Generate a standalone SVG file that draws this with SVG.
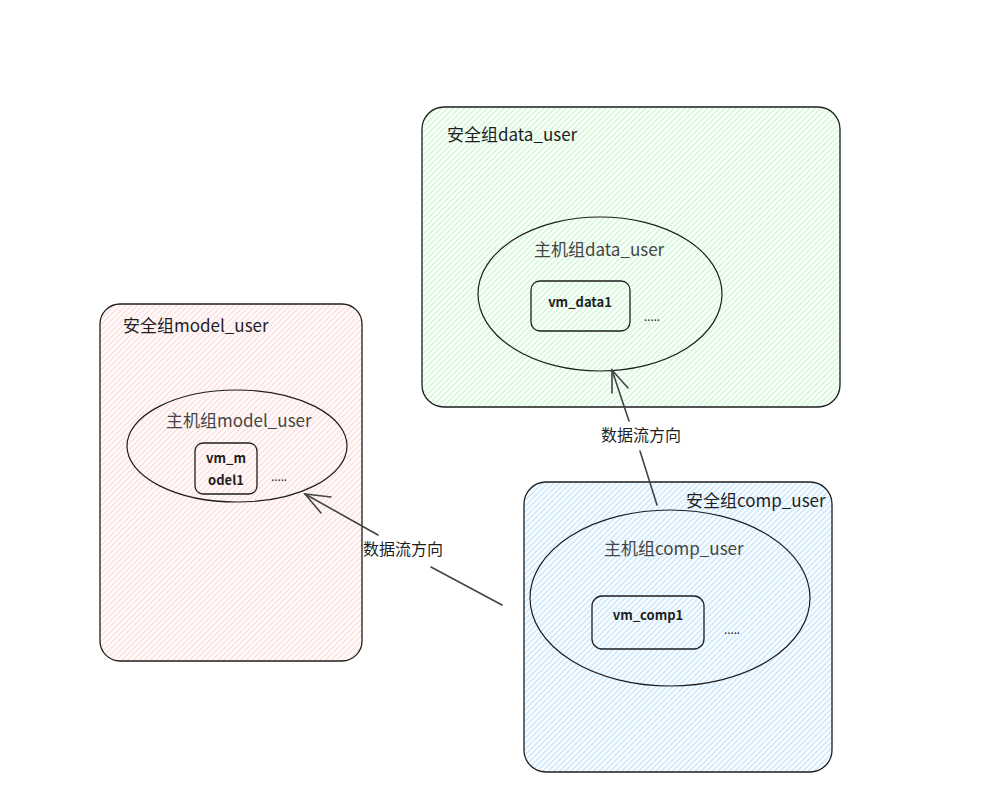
<svg xmlns="http://www.w3.org/2000/svg" width="995" height="798" viewBox="0 0 995 798">
<defs>
<pattern id="hg" patternUnits="userSpaceOnUse" width="4" height="4" patternTransform="rotate(45)"><line x1="1" y1="0" x2="1" y2="4" stroke="#b2f2bb" stroke-width="1"/></pattern>
<pattern id="hp" patternUnits="userSpaceOnUse" width="4" height="4" patternTransform="rotate(45)"><line x1="1" y1="0" x2="1" y2="4" stroke="#ffc9c9" stroke-width="1"/></pattern>
<pattern id="hb" patternUnits="userSpaceOnUse" width="4" height="4" patternTransform="rotate(45)"><line x1="1" y1="0" x2="1" y2="4" stroke="#a5d8ff" stroke-width="1"/></pattern>
<style>
.box{stroke:#1e1e1e;stroke-width:1.3}
.ell{fill:none;stroke:#1e1e1e;stroke-width:1.2}
.vm{fill:none;stroke:#1e1e1e;stroke-width:1.3}
.t{font-family:"Noto Sans CJK SC","Noto Sans",sans-serif;fill:#1e1e1e;font-size:17px}
.t2{font-family:"Noto Sans CJK SC","Noto Sans",sans-serif;fill:#444;font-size:17px}
.vt{font-family:"Noto Sans CJK SC","Noto Sans",sans-serif;fill:#1e1e1e;font-size:13px;font-weight:bold}
.dots{font-family:"Noto Sans",sans-serif;fill:#1e1e1e;font-size:12px}
.c{fill:none;stroke:#444;stroke-width:1.6;stroke-linecap:round}
.lbl{font-family:"Noto Sans CJK SC",sans-serif;fill:#1e1e1e;font-size:16px}
</style>
</defs>
<rect width="995" height="798" fill="#ffffff"/>
<g id="sg_data">
<rect class="box" x="422" y="107" width="418" height="300" rx="22" fill="url(#hg)"/>
<text class="t" x="447" y="141">安全组data_user</text>
</g>
<g id="hg_data">
<ellipse class="ell" cx="600" cy="294" rx="122" ry="77"/>
<text class="t2" x="534" y="256">主机组data_user</text>
</g>
<g id="vm_data1">
<rect class="vm" x="531" y="281" width="99" height="50" rx="9"/>
<text class="vt" x="580" y="307" text-anchor="middle">vm_data1</text>
<text class="dots" x="644" y="321">.....</text>
</g>
<g id="sg_model">
<rect class="box" x="100" y="304" width="262" height="357" rx="20" fill="url(#hp)"/>
<text class="t" x="123" y="332">安全组model_user</text>
</g>
<g id="hg_model">
<ellipse class="ell" cx="237" cy="446" rx="110" ry="56"/>
<text class="t2" x="166" y="427">主机组model_user</text>
</g>
<g id="vm_model1">
<rect class="vm" x="195" y="443" width="62" height="51" rx="8"/>
<text class="vt" x="226" y="463" text-anchor="middle">vm_m</text>
<text class="vt" x="226" y="485" text-anchor="middle">odel1</text>
<text class="dots" x="271" y="481">.....</text>
</g>
<g id="sg_comp">
<rect class="box" x="524" y="482" width="308" height="290" rx="22" fill="url(#hb)"/>
<text class="t" x="686" y="507">安全组comp_user</text>
</g>
<g id="hg_comp">
<ellipse class="ell" cx="670" cy="598" rx="140" ry="88"/>
<text class="t2" x="604" y="555">主机组comp_user</text>
</g>
<g id="vm_comp1">
<rect class="vm" x="592" y="596" width="112" height="53" rx="10"/>
<text class="vt" x="648" y="620" text-anchor="middle">vm_comp1</text>
<text class="dots" x="724" y="634">.....</text>
</g>
<g id="connectors">
<path class="c" d="M305 494 L378 535 M431 567 L502 605"/>
<path class="c" d="M331 497 L305 494 L321 513"/>
<text class="lbl" x="403" y="555" text-anchor="middle">数据流方向</text>
<path class="c" d="M612 370 L629 421 M640 451 L657 505"/>
<path class="c" d="M612 393 L612 370 L628 388"/>
<text class="lbl" x="641" y="441" text-anchor="middle">数据流方向</text>
</g>
</svg>
